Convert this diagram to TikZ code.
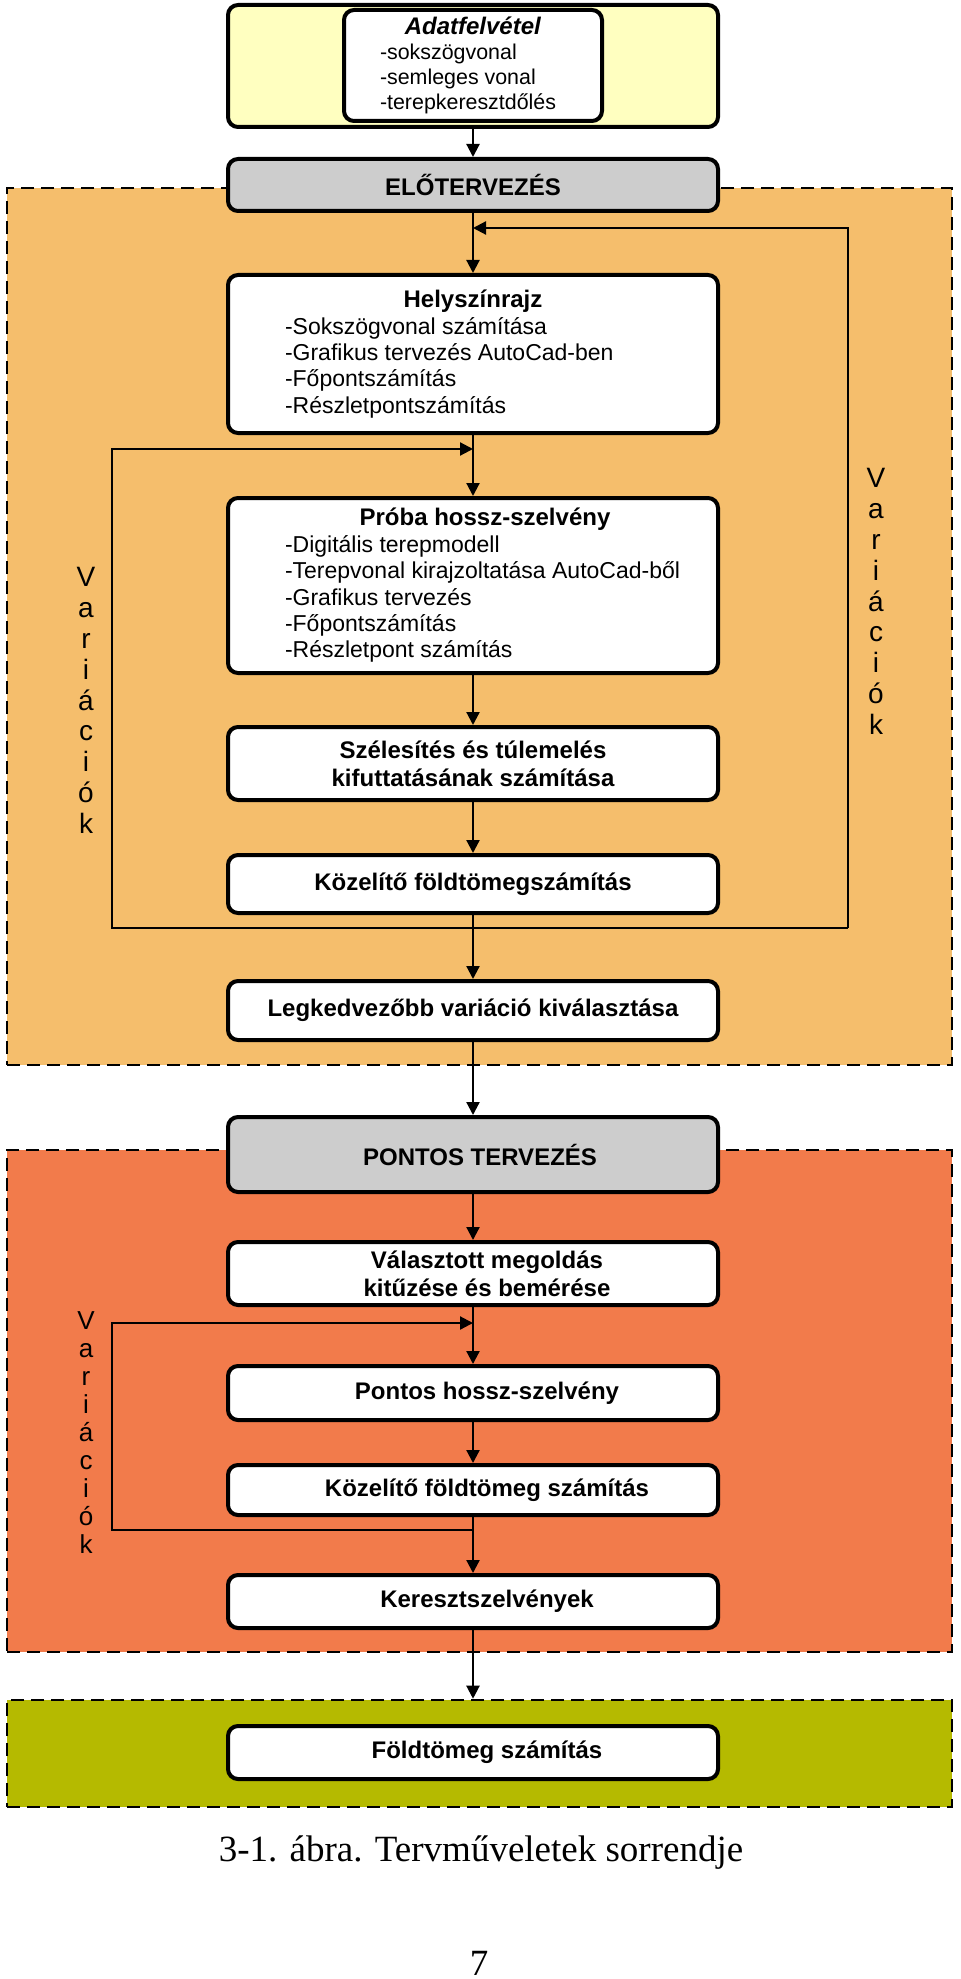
\documentclass[tikz,border=0pt]{standalone}
\usepackage{fontspec}
\setmainfont{Liberation Sans}
\newfontfamily\capfont{Liberation Serif}
\usetikzlibrary{arrows.meta}
\definecolor{lightyellow}{RGB}{255,255,192}
\definecolor{planorange}{RGB}{245,190,108}
\definecolor{planred}{RGB}{242,123,75}
\definecolor{planolive}{RGB}{181,186,0}
\definecolor{plangray}{RGB}{205,205,205}
\newcommand{\li}[2][188pt]{\makebox[#1][l]{#2}}
\newcommand{\ttl}[1]{\textbf{\fontsize{12}{13.2}\selectfont #1}}

\tikzset{
  box/.style={draw, line width=2pt, rounded corners=5pt, fill=white,
    minimum width=245pt, inner sep=2pt, align=center,
    font=\fontsize{12}{14}\selectfont\bfseries},
  listbox/.style={box, font=\fontsize{11.5}{13.2}\selectfont},
  zone/.style={draw, line width=1.3pt, dash pattern=on 6.5pt off 3.5pt,
    inner sep=0pt, minimum width=472.5pt},
  arr/.style={-{Triangle[length=6.5pt,width=6.5pt]}, line width=1.1pt},
  vlet/.style={align=center, inner sep=0pt}
}

\begin{document}
\begin{tikzpicture}[x=0.5pt,y=-0.5pt]
  \useasboundingbox (0,0) rectangle (960,1979);

      %% dashed phases
  \node[zone, fill=planorange, minimum height=438.5pt] (zone1) at (479.5,626.5) {};
  \node[zone, fill=planred, minimum height=251pt] (zone2) at (479.5,1401) {};
  \node[zone, fill=planolive, minimum height=53.5pt] (zone3) at (479.5,1753.5) {};

      %% data capture
  \node[box, fill=lightyellow, minimum height=61pt] (yel) at (473,66) {};
  \node[box, minimum width=129pt, minimum height=55.5pt,
    font=\fontsize{10.7}{12.5}\selectfont] (adat) at (473,65.5)
    {\textbf{\fontsize{12}{12.5}\selectfont\itshape Adatfelvétel}\\
     \li[93pt]{-sokszögvonal}\\ \li[93pt]{-semleges vonal}\\
     \li[93pt]{-terepkeresztdőlés}};

      %% preliminary design
  \node[box, fill=plangray, minimum height=26pt] (elo) at (473,185) {ELŐTERVEZÉS};
  \node[listbox, minimum height=79pt] (hely) at (473,354)
    {\ttl{Helyszínrajz}\\ \li{-Sokszögvonal számítása}\\
     \li{-Grafikus tervezés AutoCad-ben}\\ \li{-Főpontszámítás}\\
     \li{-Részletpontszámítás}};
  \node[listbox, minimum height=87.5pt] (proba) at (473,585.5)
    {\hspace*{12pt}\ttl{Próba hossz-szelvény}\\ \li{-Digitális terepmodell}\\
     \li{-Terepvonal kirajzoltatása AutoCad-ből}\\ \li{-Grafikus tervezés}\\
     \li{-Főpontszámítás}\\ \li{-Részletpont számítás}};
  \node[box, minimum height=36.5pt] (szel) at (473,763.5)
    {Szélesítés és túlemelés\\ kifuttatásának számítása};
  \node[box, minimum height=29pt] (kozel) at (473,884) {Közelítő földtömegszámítás};
  \node[box, minimum height=29.5pt] (legk) at (473,1010.5)
    {Legkedvezőbb variáció kiválasztása};

      %% final design
  \node[box, fill=plangray, minimum height=37.5pt] (pontos) at (473,1154.5)
    {\hspace*{7pt}PONTOS TERVEZÉS};
  \node[box, minimum height=31.5pt] (valasz) at (473,1273.5)
    {\hspace*{14pt}Választott megoldás\\ \hspace*{14pt}kitűzése és bemérése};
  \node[box, minimum height=27pt] (phossz) at (473,1393)
    {\hspace*{14pt}Pontos hossz-szelvény};
  \node[box, minimum height=25pt] (kfold) at (473,1490)
    {\hspace*{14pt}Közelítő földtömeg számítás};
  \node[box, minimum height=26.5pt] (kereszt) at (473,1601.5)
    {\hspace*{14pt}Keresztszelvények};
  \node[box, minimum height=26.5pt] (fold) at (473,1752.5)
    {\hspace*{14pt}Földtömeg számítás};

      %% variations
  \node[vlet, font=\fontsize{14}{15.4}\selectfont] (var1) at (86,700.5)
    {V\\a\\r\\i\\á\\c\\i\\ó\\k};
  \node[vlet, font=\fontsize{14}{15.4}\selectfont] (var2) at (876,601.5)
    {V\\a\\r\\i\\á\\c\\i\\ó\\k};
  \node[vlet, font=\fontsize{13}{14}\selectfont] (var3) at (86,1432.5)
    {V\\a\\r\\i\\á\\c\\i\\ó\\k};

  \foreach \a/\b in {yel/elo, elo/hely, hely/proba, proba/szel, szel/kozel,
    kozel/legk, legk/pontos, pontos/valasz, valasz/phossz, phossz/kfold,
    kfold/kereszt}
  { \draw[arr] (\a) -- (\b);}
  \draw[arr] (kereszt.south) -- (kereszt.south |- zone3.north);

      %% feedback loops
  \coordinate (lt) at (112,449);
  \coordinate (lb) at (112,928);
  \coordinate (rb) at (848,928);
  \coordinate (rt) at (848,228);
  \draw[arr] (rb) -- (rt) -- (rt -| elo.south);
  \draw[arr] (rb) -- (lb) -- (lt) -- (lt -| hely.south);
  \coordinate (qt) at (112,1323);
  \coordinate (qb) at (112,1530);
  \draw[arr] (qb -| kfold.south) -- (qb) -- (qt) -- (qt -| phossz.north);

  \node[font=\capfont\fontsize{18.5}{22}\selectfont] (cap) at (481,1853)
    {3-1. ábra. Tervműveletek sorrendje};
  \node[font=\capfont\fontsize{18.5}{22}\selectfont] (page) at (479,1963) {7};

\end{tikzpicture}
\end{document}
